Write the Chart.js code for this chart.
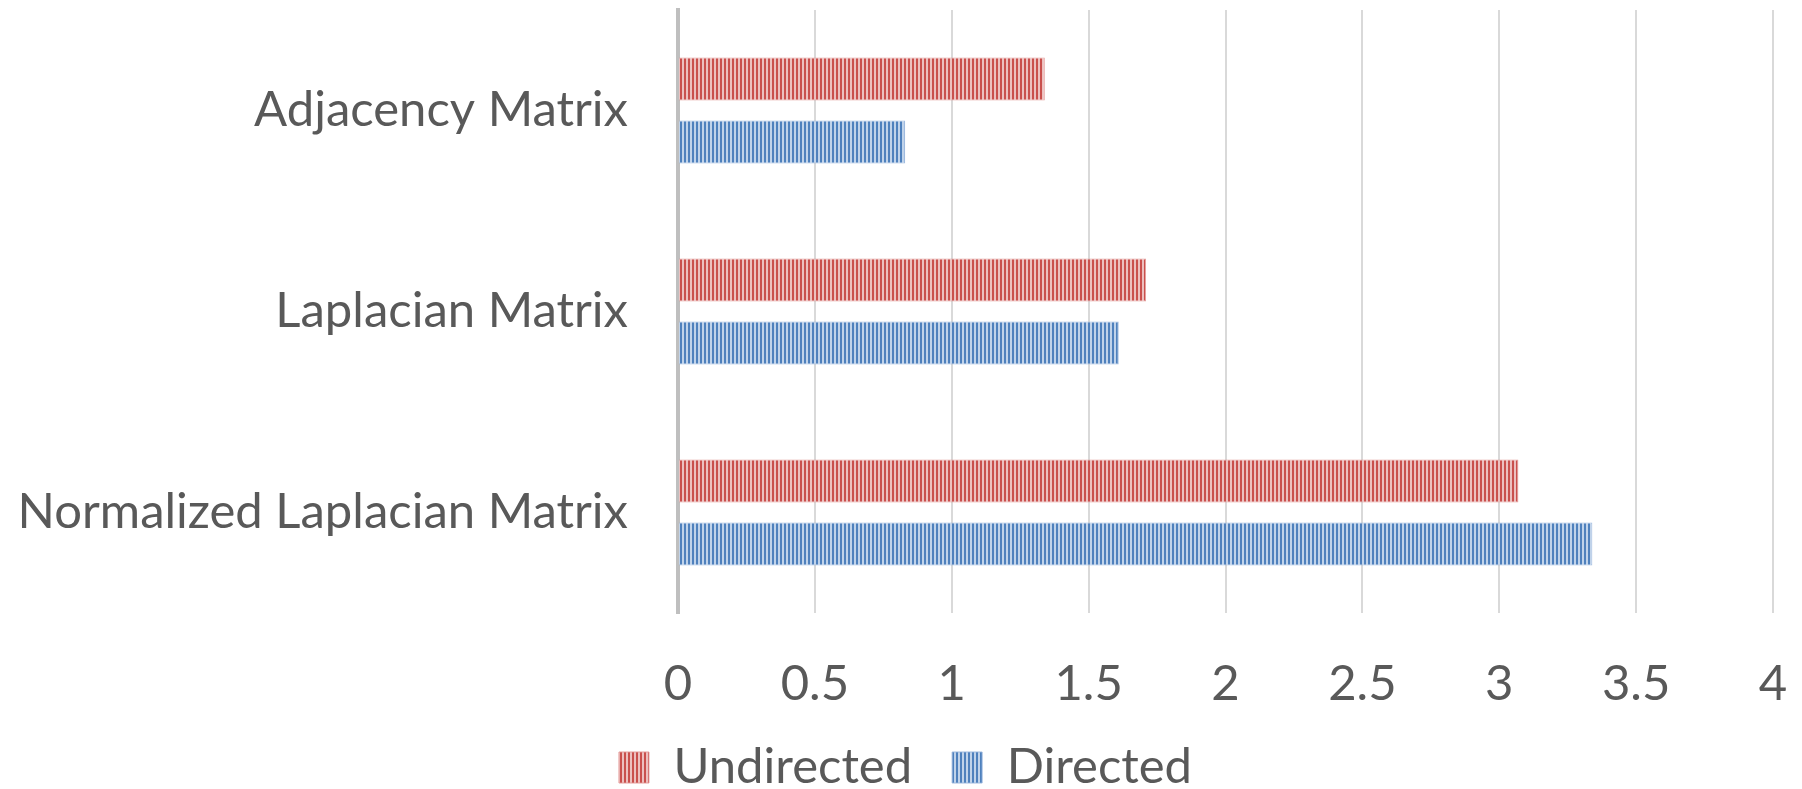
<!DOCTYPE html>
<html>
<head>
<meta charset="utf-8">
<script src="https://cdn.jsdelivr.net/npm/chart.js@4"></script>
<style>
  html, body { margin: 0; padding: 0; background: #fff; }
  #wrap { width: 1802px; height: 789px; }
</style>
</head>
<body>
<div id="wrap"><canvas id="matrixChart"></canvas></div>
<script>
// 데이터
const categories = ['Adjacency Matrix', 'Laplacian Matrix', 'Normalized Laplacian Matrix'];
const undirected = [1.34, 1.71, 3.07];
const directed = [0.83, 1.61, 3.34];
const xTickValues = [0, 0.5, 1, 1.5, 2, 2.5, 3, 3.5, 4];

// 세로 줄무늬 패턴
function stripes(dark, light) {
  var c = document.createElement('canvas');
  c.width = 4; c.height = 4;
  var g = c.getContext('2d');
  g.fillStyle = light;
  g.fillRect(0, 0, 4, 4);
  g.fillStyle = dark;
  g.fillRect(0, 0, 2, 4);
  return g.createPattern(c, 'repeat');
}
const redFill = stripes('#c9504d', '#ecc0bf');
const blueFill = stripes('#4f81bd', '#c0d3ea');

// 범례 위치 보정
const legendShift = {
  id: 'legendShift',
  afterLayout: function(chart) {
    var lg = chart.legend;
    var dx = 19, dy = -10;
    lg.left += dx; lg.right += dx;
    lg.top += dy; lg.bottom += dy;
  }
};

var labelFont = { family: 'Lato', size: 49 };

var ctx = document.getElementById('matrixChart').getContext('2d');
var matrixChart = new Chart(ctx, {
  type: 'bar',
  data: {
    labels: categories,
    datasets: [{
      label: 'Undirected',
      data: undirected,
      backgroundColor: redFill,
      borderColor: 'rgba(226,150,148,0.9)',
      borderWidth: 1,
      categoryPercentage: 0.627,
      barPercentage: 0.683
    }, {
      label: 'Directed',
      data: directed,
      backgroundColor: blueFill,
      borderColor: 'rgba(150,180,220,0.9)',
      borderWidth: 1,
      categoryPercentage: 0.627,
      barPercentage: 0.683
    }]
  },
  options: {
    indexAxis: 'y',
    responsive: true,
    maintainAspectRatio: false,
    animation: { duration: 0 },
    layout: { padding: { top: 10, right: 29, left: 0, bottom: -23 } },
    scales: {
      x: {
        min: 0,
        max: 4,
        afterBuildTicks: function(scale) {
          scale.ticks = xTickValues.map(function(v) { return { value: v }; });
        },
        afterFit: function(scale) {
          scale.height = 100;
          scale.paddingLeft = 0;
          scale.paddingRight = 0;
        },
        grid: { color: '#d9d9d9', lineWidth: 2, drawTicks: false },
        border: { display: false },
        ticks: {
          padding: 42,
          color: '#595959',
          font: labelFont,
          callback: function(v) { return v; }
        }
      },
      y: {
        afterFit: function(scale) {
          scale.width = 678;
          scale.paddingTop = 0;
          scale.paddingBottom = 0;
        },
        grid: { display: false, drawTicks: false },
        border: { display: true, color: '#bfbfbf', width: 4 },
        ticks: {
          padding: 50,
          color: '#595959',
          font: labelFont
        }
      }
    },
    plugins: {
      legend: {
        position: 'bottom',
        labels: {
          boxWidth: 30,
          boxHeight: 31,
          padding: 40,
          color: '#595959',
          font: labelFont
        }
      },
      tooltip: { enabled: false }
    }
  },
  plugins: [legendShift]
});
</script>
</body>
</html>
